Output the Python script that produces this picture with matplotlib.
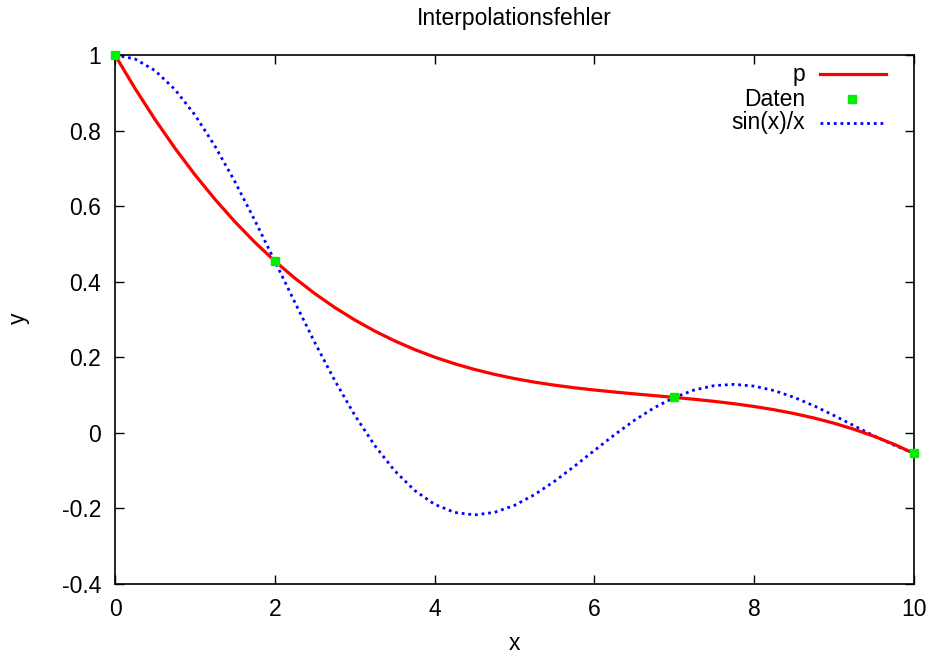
import matplotlib
matplotlib.use("Agg")
import matplotlib.pyplot as plt
from matplotlib.lines import Line2D

plt.rcParams['font.family'] = ['Liberation Sans', 'DejaVu Sans']

# sin(x)/x curve samples
x_sin = [0.0, 0.25, 0.5, 0.75, 1.0, 1.25, 1.5, 1.75, 2.0, 2.25, 2.5, 2.75, 3.0, 3.25, 3.5, 3.75,
         4.0, 4.25, 4.5, 4.75, 5.0, 5.25, 5.5, 5.75, 6.0, 6.25, 6.5, 6.75, 7.0, 7.25, 7.5, 7.75,
         8.0, 8.25, 8.5, 8.75, 9.0, 9.25, 9.5, 9.75, 10.0]
y_sin = [1.0, 0.989616, 0.958851, 0.908852, 0.841471, 0.759188, 0.664997, 0.562278, 0.454649,
         0.345810, 0.239389, 0.138786, 0.047040, -0.033291, -0.100224, -0.152416, -0.189201,
         -0.210586, -0.217229, -0.210377, -0.191785, -0.163607, -0.128280, -0.088396, -0.046569,
         -0.005309, 0.033095, 0.066673, 0.093855, 0.113528, 0.125067, 0.128335, 0.123670,
         0.111831, 0.093940, 0.071397, 0.045791, 0.018799, -0.007911, -0.032633, -0.054402]

# interpolating polynomial p samples
x_p = x_sin
y_p = [1.0, 0.911679, 0.829599, 0.753520, 0.683198, 0.618392, 0.558860, 0.504358, 0.454649,
       0.409487, 0.368632, 0.331841, 0.298873, 0.269488, 0.243440, 0.220487, 0.200392,
       0.182912, 0.167801, 0.154818, 0.143700, 0.134249, 0.126204, 0.119318, 0.113356,
       0.108069, 0.103221, 0.098564, 0.093855, 0.088871, 0.083350, 0.077052, 0.069744,
       0.061175, 0.051043, 0.039232, 0.025435, 0.009417, -0.009062, -0.030253, -0.054402]

# data points
x_data = [0, 2, 7, 10]
y_data = [1.0, 0.454649, 0.093855, -0.054402]

x_ticks = [0, 2, 4, 6, 8, 10]
y_ticks = [-0.4, -0.2, 0, 0.2, 0.4, 0.6, 0.8, 1]
y_tick_labels = ['-0.4', '-0.2', '0', '0.2', '0.4', '0.6', '0.8', '1']

red = '#ff0000'
green = '#00ee00'
blue = '#0000ff'
FS = 16.5

fig = plt.figure(figsize=(9.32, 6.54), dpi=100)
ax = fig.add_axes([115/932, 1 - 584/654, (914 - 115)/932, (584 - 55)/654])

ax.plot(x_p, y_p, color=red, lw=2.3, solid_capstyle='butt', zorder=3)
ax.plot(x_sin, y_sin, color=blue, lw=2.0, linestyle=(0, (1, 1.4)), zorder=2)
ax.plot(x_data, y_data, linestyle='none', marker='s', ms=5.5, color=green, mec=green, zorder=4, clip_on=False)

ax.set_xlim(0, 10)
ax.set_ylim(-0.4, 1.0)
ax.set_xticks(x_ticks)
ax.set_xticklabels([str(t) for t in x_ticks])
ax.set_yticks(y_ticks)
ax.set_yticklabels(y_tick_labels)
ax.tick_params(direction='in', length=6.5, width=1, top=True, right=True,
               labelsize=FS, colors='black')
ax.tick_params(axis='x', pad=10)
ax.tick_params(axis='y', pad=10)
for s in ax.spines.values():
    s.set_linewidth(1.2)
    s.set_color('black')

fig.text(514/932, 1 - 18/654, 'Interpolationsfehler', ha='center', va='center', fontsize=FS)
fig.text(514/932, 1 - 644/654, 'x', ha='center', va='center', fontsize=FS)
fig.text(18/932, 1 - 318/654, 'y', ha='center', va='center', fontsize=FS, rotation=90)

# manual gnuplot-style legend (figure pixel coordinates)
def fx(px):
    return px / 932
def fy(py):
    return 1 - py / 654

labels = ['p', 'Daten', 'sin(x)/x']
rows = [74, 99, 123]
for lab, r in zip(labels, rows):
    fig.text(fx(805), fy(r), lab, ha='right', va='center', fontsize=FS)
fig.add_artist(Line2D([fx(820), fx(886)], [fy(74), fy(74)], color=red, lw=2.3))
fig.add_artist(Line2D([fx(852)], [fy(99)], color=green, marker='s', ms=5.5, mec=green, linestyle='none'))
fig.add_artist(Line2D([fx(820), fx(886)], [fy(123), fy(123)], color=blue, lw=2.0, linestyle=(0, (1, 1.4))))

fig.savefig('out.png', dpi=100)
